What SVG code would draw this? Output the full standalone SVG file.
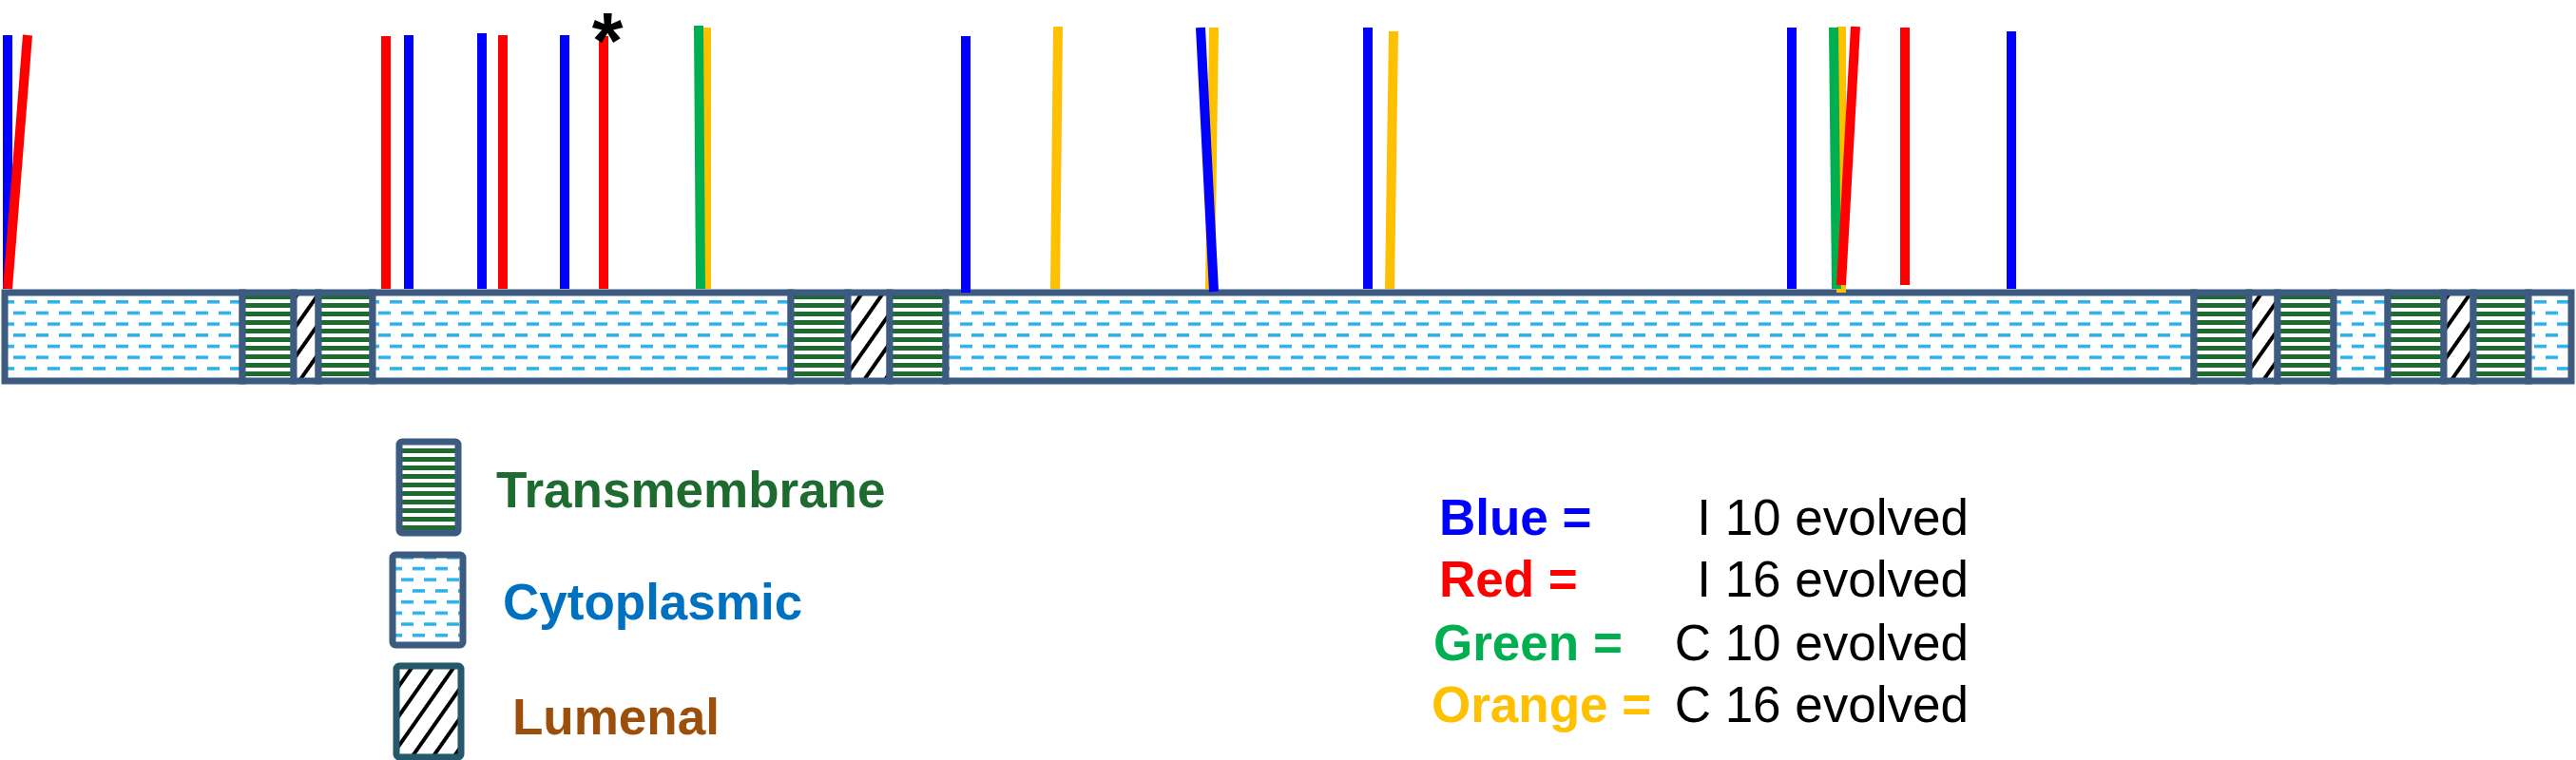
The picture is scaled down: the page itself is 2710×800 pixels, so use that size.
<svg xmlns="http://www.w3.org/2000/svg" width="2710" height="800" viewBox="0 0 2710 800">
<style>
.seg{stroke:#3d5a80;stroke-width:7}
.cy{fill:url(#cyto)}.tm{fill:url(#tm)}.lu{fill:url(#lum)}
.m{stroke-width:10;fill:none}
.b{stroke:#0000ff}.r{stroke:#ff0000}.g{stroke:#00b050}.o{stroke:#ffc000}
.lab{font-family:"Liberation Sans",Arial,sans-serif;font-weight:bold;font-size:53px}
.val{font-family:"Liberation Sans",Arial,sans-serif;font-size:53px;fill:#000}
</style>
<defs>
<pattern id="cyto" patternUnits="userSpaceOnUse" x="0" y="312" width="24" height="23.4">
<rect width="24" height="23.4" fill="#fff"/>
<rect x="2" y="4" width="13" height="3.5" fill="#29b0e8"/>
<rect x="14" y="15.7" width="13" height="3.5" fill="#29b0e8"/>
<rect x="-10" y="15.7" width="13" height="3.5" fill="#29b0e8"/>
</pattern>
<pattern id="tm" patternUnits="userSpaceOnUse" x="0" y="310" width="10" height="9">
<rect width="10" height="9" fill="#fff"/>
<rect y="0" width="10" height="5" fill="#1e6b30"/>
</pattern>
<pattern id="lum" patternUnits="userSpaceOnUse" width="18" height="18" patternTransform="rotate(35)">
<rect width="18" height="18" fill="#fff"/>
<rect width="4" height="18" fill="#000"/>
</pattern>
</defs>
<g id="protein">
<rect class="seg cy" x="5" y="308" width="250" height="93"/>
<rect class="seg tm" x="255" y="308" width="54" height="93"/>
<rect class="seg lu" x="309" y="308" width="26" height="93"/>
<rect class="seg tm" x="335" y="308" width="57" height="93"/>
<rect class="seg cy" x="392" y="308" width="440" height="93"/>
<rect class="seg tm" x="832" y="308" width="60" height="93"/>
<rect class="seg lu" x="892" y="308" width="44" height="93"/>
<rect class="seg tm" x="936" y="308" width="59" height="93"/>
<rect class="seg cy" x="995" y="308" width="1313" height="93"/>
<rect class="seg tm" x="2308" y="308" width="58" height="93"/>
<rect class="seg lu" x="2366" y="308" width="30" height="93"/>
<rect class="seg tm" x="2396" y="308" width="59" height="93"/>
<rect class="seg cy" x="2455" y="308" width="57" height="93"/>
<rect class="seg tm" x="2512" y="308" width="59" height="93"/>
<rect class="seg lu" x="2571" y="308" width="31" height="93"/>
<rect class="seg tm" x="2602" y="308" width="58" height="93"/>
<rect class="seg cy" x="2660" y="308" width="45" height="93"/>
</g>
<g id="connectors">
<line class="m b" x1="8" y1="37" x2="8" y2="304"/>
<line class="m r" x1="29" y1="37" x2="8" y2="304"/>
<line class="m r" x1="406" y1="38" x2="406" y2="304"/>
<line class="m b" x1="430" y1="37" x2="430" y2="304"/>
<line class="m b" x1="507" y1="35" x2="507" y2="304"/>
<line class="m r" x1="529" y1="37" x2="529" y2="304"/>
<line class="m b" x1="594" y1="37" x2="594" y2="304"/>
<line class="m r" x1="635" y1="38" x2="635" y2="304"/>
<line class="m o" x1="743" y1="29" x2="743" y2="304"/>
<line class="m g" x1="735" y1="27" x2="737" y2="304"/>
<line class="m b" x1="1016" y1="38" x2="1016" y2="308"/>
<line class="m o" x1="1113" y1="28" x2="1110" y2="304"/>
<line class="m o" x1="1277" y1="29" x2="1273" y2="304"/>
<line class="m b" x1="1263" y1="29" x2="1277" y2="307"/>
<line class="m b" x1="1439" y1="29" x2="1439" y2="304"/>
<line class="m o" x1="1466" y1="33" x2="1462" y2="304"/>
<line class="m b" x1="1885" y1="29" x2="1885" y2="304"/>
<line class="m o" x1="1937" y1="28" x2="1937" y2="308"/>
<line class="m g" x1="1929" y1="29" x2="1932" y2="304"/>
<line class="m r" x1="1952" y1="28" x2="1937" y2="300"/>
<line class="m r" x1="2004" y1="29" x2="2004" y2="300"/>
<line class="m b" x1="2116" y1="33" x2="2116" y2="304"/>
</g>
<text x="639" y="72" text-anchor="middle" style="font-family:'Liberation Sans',Arial,sans-serif;font-weight:bold;font-size:84px">*</text>
<g id="legend-tm">
<rect class="seg tm" x="420" y="465" width="62" height="96" rx="3"/>
<text class="lab" x="522" y="534" fill="#1e6b30">Transmembrane</text>
</g>
<g id="legend-cyto">
<rect class="seg cy" x="413" y="584" width="74" height="95" rx="3"/>
<text class="lab" x="529" y="652" fill="#0070c0">Cytoplasmic</text>
</g>
<g id="legend-lum">
<rect class="seg lu" x="417" y="701" width="68" height="96" rx="3" style="stroke:#24586a"/>
<text class="lab" x="539" y="773" fill="#9c4f0a">Lumenal</text>
</g>
<g id="color-key">
<text class="lab" x="1514" y="563" fill="#0000ff">Blue =</text>
<text class="val" x="2071" y="563" text-anchor="end">I 10 evolved</text>
<text class="lab" x="1514" y="628" fill="#ff0000">Red =</text>
<text class="val" x="2071" y="628" text-anchor="end">I 16 evolved</text>
<text class="lab" x="1508" y="695" fill="#00b050">Green =</text>
<text class="val" x="2071" y="695" text-anchor="end">C 10 evolved</text>
<text class="lab" x="1506" y="760" fill="#ffc000">Orange =</text>
<text class="val" x="2071" y="760" text-anchor="end">C 16 evolved</text>
</g>
</svg>
